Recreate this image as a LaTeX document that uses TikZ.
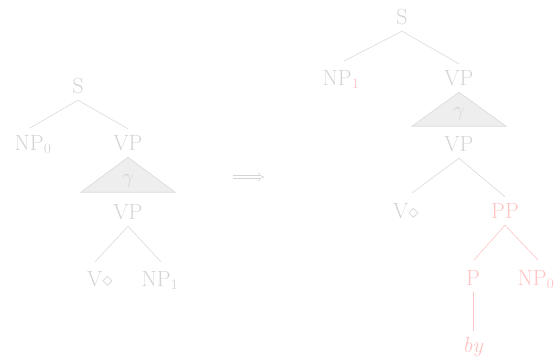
\documentclass[tikz,border=0pt]{standalone}
\usepackage{amsmath,amssymb}
\usetikzlibrary{arrows.meta}
\definecolor{tgray}{RGB}{212,212,212}
\definecolor{lgray}{RGB}{218,218,218}
\definecolor{tfill}{RGB}{238,238,238}
\definecolor{tpink}{RGB}{255,196,196}
\begin{document}
\begin{tikzpicture}[x=1pt,y=-1pt,
  lab/.style={text=tgray,font=\fontsize{22}{26}\selectfont,inner xsep=0pt,inner ysep=6.5pt,text height=15pt,text depth=0pt},
  plab/.style={lab,text=tpink},
  edge/.style={draw=lgray,line width=0.6pt},
  pedge/.style={draw=tpink,line width=0.6pt},
  tri/.style={draw=lgray,fill=tfill,line width=0.6pt},
  impl/.style={draw=tgray,double=white,double distance=2.6pt,line width=0.6pt,-{Implies}}]
\useasboundingbox (0,0) rectangle (556,357);
% left tree
\node[lab] (lS) at (78,86) {S};
\node[lab] (lNP) at (33,143) {NP$_0$};
\node[lab] (lVP) at (128,143) {VP};
\node[lab] (lVPb) at (128,212) {VP};
\node[lab] (lV) at (100,279) {V$\diamond$};
\node[lab] (lNP1) at (160,279) {NP$_1$};
\draw[edge] (lS.south) -- (30,128);
\draw[edge] (lS.south) -- (lVP.north);
\draw[tri] (lVP.south) -- ++(47,35) -- ++(-94,0) -- cycle;
\node[lab] (lg) at (128,176) {$\gamma$};
\draw[edge] (lVPb.south) -- (95,262);
\draw[edge] (lVPb.south) -- (161,262);
% arrow
\coordinate (aL) at (233,177);
\coordinate (aR) at (264,177);
\draw[impl] (aL) -- (aR);
% right tree
\node[lab] (rS) at (402,17) {S};
\node[lab] (rNP) at (341,78) {NP$_{\color{tpink}1}$};
\node[lab] (rVP) at (459,78) {VP};
\node[lab] (rVPb) at (459,144) {VP};
\node[lab] (rV) at (406,211) {V$\diamond$};
\node[plab] (rPP) at (505,211) {PP};
\node[plab] (rP) at (473,278) {P};
\node[plab] (rNP0) at (536,278) {NP$_0$};
\node[plab] (rby) at (473,345) {\textit{by}};
\draw[edge] (rS.south) -- (344,61);
\draw[edge] (rS.south) -- (rVP.north);
\draw[tri] (rVP.south) -- ++(47,34) -- ++(-94,0) -- cycle;
\node[lab] (rg) at (459,109) {$\gamma$};
\draw[edge] (rVPb.south) -- (412,193);
\draw[edge] (rVPb.south) -- (rPP.north);
\draw[pedge] (rPP.south) -- (474,260);
\draw[pedge] (rPP.south) -- (538,260);
\draw[pedge] (rP.south) -- (rby.north);
\end{tikzpicture}
\end{document}
